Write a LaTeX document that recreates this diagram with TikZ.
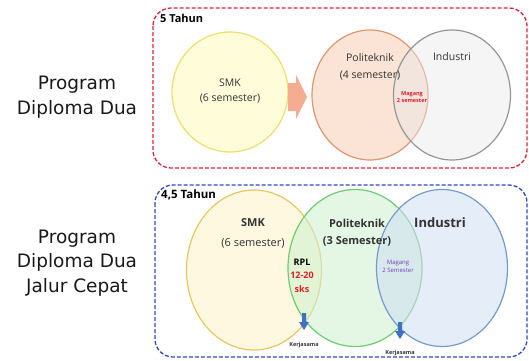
\documentclass[tikz,border=0pt]{standalone}
\usepackage{fontspec}
\setmainfont{Open Sans}
\newfontfamily\titlefont{DejaVu Sans}
\usetikzlibrary{shapes.geometric}

\definecolor{boxred}{RGB}{214,38,62}
\definecolor{boxblue}{RGB}{48,72,190}
\definecolor{smkline}{RGB}{238,222,112}
\definecolor{smkfill}{RGB}{255,252,218}
\definecolor{smkBline}{RGB}{232,198,95}
\definecolor{smkBfill}{RGB}{255,248,224}
\definecolor{polline}{RGB}{222,150,112}
\definecolor{polfill}{RGB}{251,228,214}
\definecolor{indline}{RGB}{150,150,150}
\definecolor{indfill}{RGB}{232,232,232}
\definecolor{grnline}{RGB}{110,205,110}
\definecolor{grnfill}{RGB}{205,240,205}
\definecolor{bluline}{RGB}{115,155,205}
\definecolor{blufill}{RGB}{205,222,242}
\definecolor{salmon}{RGB}{246,172,145}
\definecolor{arrblue}{RGB}{62,112,200}
\definecolor{txtred}{RGB}{225,30,40}
\definecolor{txtpurple}{RGB}{120,60,190}

\begin{document}
\begin{tikzpicture}[x=1pt,y=-1pt,
every node/.style={font=\fontsize{10.5}{12.5}\selectfont,text=black!80},
lab/.style={inner sep=0pt,align=center},
big/.style={lab,font=\titlefont\fontsize{18.5}{24.5}\selectfont,text=black!90},
ring/.style={ellipse,draw,line width=1.2pt,inner sep=0pt},
frame/.style={dash pattern=on 4pt off 2pt,line width=1.3pt,rounded corners=18pt}
]
\useasboundingbox (0,0) rectangle (529,360);

% program titles
\node[big] (progA) at (77,97) {Program\\Diploma Dua};
\node[big] (progB) at (77,263) {Program\\Diploma Dua\\Jalur Cepat};

% ---- Diploma Dua (5 tahun)
\draw[frame,boxred] (153,8) rectangle (527,168);
\node[lab,anchor=north west,font=\bfseries\fontsize{11}{12}\selectfont,text=black] (durA) at (160,14) {5 Tahun};

\node[ring,draw=smkline,fill=smkfill,minimum width=116pt,minimum height=120pt] (smkA) at (230,92) {};
\node[ring,draw=polline,fill=polfill,minimum width=116pt,minimum height=130pt] (polA) at (370,95) {};
\node[ring,draw=indline,fill=indfill,fill opacity=0.45,minimum width=117pt,minimum height=130pt] (indA) at (452,95) {};

\node[lab] (smkAt) at (230,91) {SMK\\[2pt](6 semester)};
\node[lab] (polAt) at (370,67) {Politeknik\\[5pt](4 semester)};
\node[lab] (indAt) at (452,57) {Industri};
\node[lab,font=\bfseries\fontsize{5.5}{7}\selectfont,text=txtred] (magA) at (412,97) {Magang\\2 semester};

\fill[salmon] (288,83) -- (296,83) -- (296,75) -- (307,97) -- (296,119) -- (296,111) -- (288,111) -- cycle;

% ---- Jalur cepat (4,5 tahun)
\draw[frame,boxblue] (155,185) rectangle (527,357);
\node[lab,anchor=north west,font=\bfseries\fontsize{11.5}{12}\selectfont,text=black] (durB) at (161,190) {4,5 Tahun};

\node[ring,draw=smkBline,fill=smkBfill,minimum width=135pt,minimum height=160pt] (smkB) at (254,270) {};
\node[ring,draw=grnline,fill=grnfill,fill opacity=0.55,minimum width=134pt,minimum height=157pt] (polB) at (355,268) {};
\node[ring,draw=bluline,fill=blufill,fill opacity=0.55,minimum width=131pt,minimum height=157pt] (indB) at (442,268) {};

\node[lab,font=\bfseries\fontsize{11}{13}\selectfont] (smkBt) at (253,223) {SMK};
\node[lab,font=\fontsize{11}{13}\selectfont] (smkBs) at (253,243) {(6 semester)};
\node[lab,font=\bfseries\fontsize{11}{13}\selectfont] (polBt) at (357,233) {Politeknik\\[4pt](3 Semester)};
\node[lab,font=\bfseries\fontsize{13}{15}\selectfont] (indBt) at (440,223) {Industri};

\node[lab,font=\bfseries\fontsize{9}{11}\selectfont,text=black] (rpl) at (302,262) {RPL};
\node[lab,font=\bfseries\fontsize{9}{14}\selectfont,text=txtred] (sks) at (302,282) {12-20\\sks};
\node[lab,font=\fontsize{6}{8}\selectfont,text=txtpurple] (magB) at (398,266) {Magang\\2 Semester};

\fill[arrblue] (302,313) -- (306,313) -- (306,322) -- (309,322) -- (304,330) -- (299,322) -- (302,322) -- cycle;
\fill[arrblue] (398,322) -- (402,322) -- (402,331) -- (405,331) -- (400,339) -- (395,331) -- (398,331) -- cycle;
\node[lab,font=\bfseries\fontsize{5.5}{7}\selectfont] (kjA) at (304,345) {Kerjasama};
\node[lab,font=\bfseries\fontsize{5.5}{7}\selectfont] (kjB) at (400,353) {Kerjasama};
\end{tikzpicture}
\end{document}
